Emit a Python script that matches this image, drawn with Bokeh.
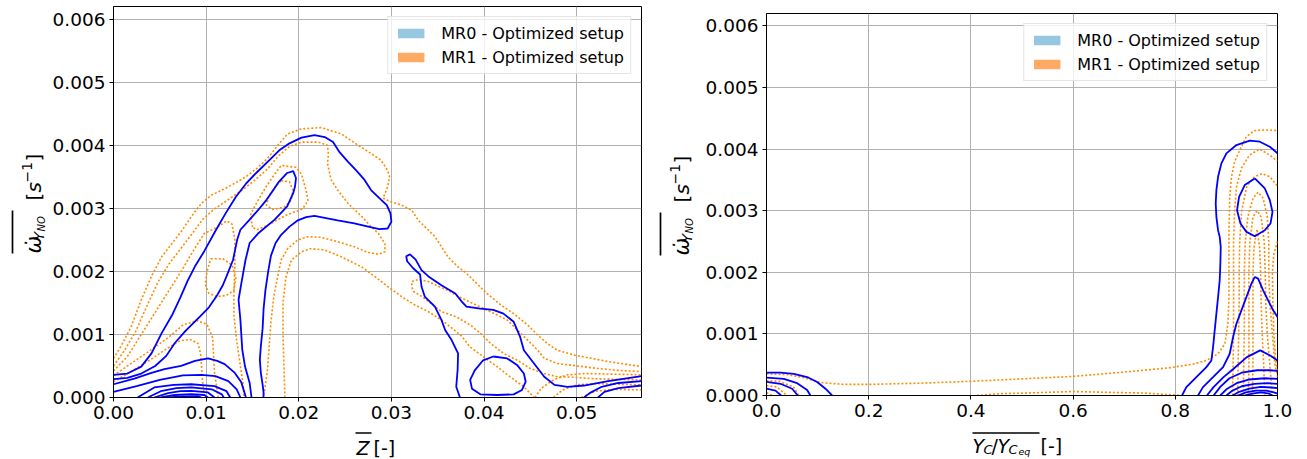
import math
from bokeh.plotting import figure
from bokeh.layouts import row, column
from bokeh.models import Range1d, FixedTicker, PrintfTickFormatter, Legend, LegendItem
from bokeh.core.properties import value
from bokeh.embed import file_html
from bokeh.resources import INLINE

# ---------------- data: left panel (x = mean mixture fraction Z) ----------------
z_ticks = [0.0, 0.01, 0.02, 0.03, 0.04, 0.05]
w_ticks = [0.0, 0.001, 0.002, 0.003, 0.004, 0.005, 0.006]
c_ticks = [0.0, 0.2, 0.4, 0.6, 0.8, 1.0]
legend_labels = ["MR0 - Optimized setup", "MR1 - Optimized setup"]

# MR0 (solid blue) contour paths, (Z, omega)
mr0_z_outer = [(0.0,0.00036),(0.0015,0.00038),(0.003,0.00049),(0.0041,0.0007),(0.0052,0.00102),(0.0063,0.0013),
    (0.0072,0.00158),(0.0080,0.00185),(0.0088,0.00208),(0.0098,0.00232),(0.0110,0.00264),(0.0121,0.00292),
    (0.0132,0.00318),(0.0143,0.00339),(0.0154,0.00356),(0.0168,0.00376),(0.0179,0.00392),(0.0190,0.00403),
    (0.0203,0.00412),(0.0217,0.00416),(0.0228,0.00413),(0.0237,0.00405),(0.0244,0.00389),(0.0253,0.00374),
    (0.0262,0.0036),(0.0271,0.00345),(0.0278,0.00329),(0.0287,0.00316),(0.0295,0.00305),(0.0299,0.00292),
    (0.0300,0.00279),(0.0296,0.00268),(0.0287,0.00267),(0.0275,0.00271),(0.0260,0.00276),(0.0242,0.00281),
    (0.0228,0.00285),(0.0217,0.00288),(0.0208,0.00286),(0.0199,0.00281),(0.0190,0.00271),(0.0181,0.00258),
    (0.0175,0.00245),(0.0170,0.00225),(0.0167,0.0020),(0.0164,0.0017),(0.0162,0.0014),(0.0161,0.0011),
    (0.0159,0.0008),(0.0158,0.0006),(0.0159,0.0004),(0.0161,0.0002),(0.0162,0.00008),(0.0162,0.0)]
mr0_z_inner = [(0.0,0.00029),(0.0015,0.00031),(0.003,0.00038),(0.0045,0.0005),(0.0057,0.00066),(0.0066,0.00086),
    (0.0078,0.00106),(0.0093,0.00128),(0.0103,0.00143),(0.0111,0.0016),(0.0118,0.00178),(0.0122,0.00192),
    (0.0129,0.00218),(0.01335,0.0025),(0.0137,0.00266),(0.0147,0.00282),(0.0156,0.00297),(0.0165,0.00313),
    (0.0172,0.00328),(0.01785,0.00342),(0.01875,0.00356),(0.0194,0.00359),(0.0197,0.00348),(0.0196,0.00335),
    (0.0194,0.00324),(0.01875,0.00303),(0.0174,0.00282),(0.0156,0.0026),(0.0147,0.00245),(0.01425,0.00218),
    (0.0138,0.00181),(0.0135,0.00155),(0.0137,0.00123),(0.0139,0.00076),(0.0142,0.00049),(0.0147,0.00023),(0.0149,0.0)]
mr0_z_hump = [(0.0,0.00021),(0.00225,0.0003),(0.0041,0.00039),(0.0055,0.00045),(0.0073,0.0005),(0.0088,0.00058),
    (0.0102,0.00062),(0.0112,0.00058),(0.012,0.00053),(0.0131,0.00039),(0.0138,0.00024),(0.0143,0.0)]
mr0_z_low = [(0.0,0.00009),(0.0025,0.00018),(0.005,0.00028),(0.0075,0.00035),(0.0095,0.00036),(0.011,0.00034),
    (0.0124,0.00026),(0.0133,0.00013),(0.0137,0.0)]
mr0_z_core1 = [(0.0026,0.0),(0.0044,0.00016),(0.0065,0.0002),(0.0084,0.00021),(0.0109,0.00018),(0.0122,0.0001),(0.0126,0.0)]
mr0_z_core2 = [(0.0037,0.0),(0.0051,0.0001),(0.0068,0.00015),(0.0084,0.00016),(0.0106,0.00013),(0.0117,0.00005),(0.0119,0.0)]
mr0_z_core3 = [(0.0044,0.0),(0.0059,0.00007),(0.0072,0.0001),(0.0084,0.000105),(0.0102,0.00008),(0.0109,0.0)]
mr0_z_core4 = [(0.0051,0.0),(0.0066,0.00004),(0.0084,0.000055),(0.0098,0.00004),(0.0102,0.0)]
mr0_z_core5 = [(0.0059,0.0),(0.0073,0.000018),(0.0091,0.00002),(0.0095,0.0)]
mr0_z_right = [(0.0374,0.0),(0.0370,0.00017),(0.03715,0.00044),(0.0372,0.0007),(0.0365,0.00091),(0.0358,0.00107),
    (0.0354,0.00123),(0.0347,0.00144),(0.0336,0.0016),(0.03325,0.00176),(0.0331,0.00195),(0.03235,0.00205),
    (0.0317,0.00216),(0.0316,0.00224),(0.0320,0.00227),(0.0326,0.00219),(0.03325,0.00202),(0.0340,0.00192),
    (0.0354,0.00178),(0.0369,0.00165),(0.0376,0.00152),(0.0381,0.00144),(0.0396,0.00141),(0.0410,0.00139),
    (0.0421,0.00133),(0.0432,0.0012),(0.0439,0.00096),(0.0443,0.00075),(0.0454,0.00054),(0.0465,0.00033),
    (0.0476,0.0002),(0.0490,0.00017),(0.0508,0.00019),(0.0534,0.00026),(0.057,0.00034)]
mr0_z_island = [(0.0410,0.00065),(0.0425,0.00062),(0.0436,0.00051),(0.0443,0.00038),(0.0445,0.00025),(0.0441,0.00012),
    (0.0432,0.00005),(0.0414,0.00004),(0.0396,0.00005),(0.0387,0.00014),(0.0385,0.00028),(0.039,0.00043),
    (0.0399,0.00059),(0.0410,0.00065)]
mr0_z_tail1 = [(0.0508,0.0),(0.0514,0.00007),(0.0527,0.00017),(0.0545,0.00023),(0.057,0.00026)]
mr0_z_tail2 = [(0.0523,0.0),(0.053,0.00009),(0.0545,0.00015),(0.057,0.00019)]

# MR1 (dotted orange) contour paths, (Z, omega)
mr1_z_outer = [(0.0,0.00062),(0.0008,0.00081),(0.0019,0.00112),(0.003,0.00155),(0.0041,0.00192),(0.0052,0.00223),
    (0.0063,0.00244),(0.0074,0.00265),(0.0084,0.00287),(0.0095,0.00308),(0.0106,0.00321),(0.0124,0.00334),
    (0.0143,0.0035),(0.0157,0.00366),(0.0168,0.00382),(0.0179,0.00403),(0.0188,0.00418),(0.0203,0.00426),
    (0.0224,0.00428),(0.0246,0.00418),(0.0264,0.004),(0.0278,0.00387),(0.0289,0.00376),(0.0296,0.0036),
    (0.0298,0.0035),(0.0296,0.00334),(0.0291,0.00316),(0.03,0.0031),(0.0311,0.00305),(0.0322,0.00297),
    (0.0329,0.00281),(0.0336,0.00271),(0.0347,0.00255),(0.0354,0.00239),(0.0361,0.00223),(0.0372,0.00207),
    (0.0381,0.00197),(0.0392,0.00181),(0.0403,0.00165),(0.0418,0.00147),(0.0432,0.00133),(0.0447,0.00115),
    (0.0458,0.00099),(0.0468,0.00086),(0.0479,0.00075),(0.0498,0.00067),(0.0516,0.00062),(0.0534,0.00057),
    (0.0552,0.00053),(0.057,0.00049)]
mr1_z_second = [(0.0,0.0005),(0.0012,0.00075),(0.0024,0.00105),(0.0036,0.00145),(0.0048,0.00183),(0.006,0.00212),
    (0.0072,0.00235),(0.0084,0.00258),(0.0096,0.00282),(0.0108,0.00298),(0.0122,0.00312),(0.0138,0.00328),
    (0.0153,0.00345),(0.0166,0.00362),(0.0178,0.00383),(0.019,0.00398),(0.0203,0.00405),(0.0221,0.00405),
    (0.0231,0.004),(0.0232,0.00385),(0.0231,0.00371),(0.0235,0.00345),(0.0242,0.00329),(0.0253,0.00308),
    (0.0268,0.00287),(0.0278,0.00271),(0.0286,0.0026),(0.0293,0.00244),(0.0293,0.00231),(0.0286,0.00227),
    (0.0275,0.0023),(0.026,0.00239),(0.0242,0.00247),(0.0224,0.00254),(0.021,0.00255),(0.0199,0.0025),
    (0.0188,0.00236),(0.0181,0.00218),(0.0177,0.0019),(0.0173,0.0016),(0.017,0.0012),(0.0168,0.0008),
    (0.0166,0.0004),(0.0163,0.0001),(0.0161,0.0)]
mr1_z_third = [(0.0,0.00042),(0.0015,0.00065),(0.003,0.001),(0.0045,0.00135),(0.006,0.0017),(0.0073,0.002),
    (0.0085,0.0023),(0.0098,0.0026),(0.0112,0.0027),(0.0122,0.0028),(0.0128,0.00275),(0.0131,0.0025),
    (0.0131,0.0021),(0.013,0.0017),(0.013,0.0013),(0.0133,0.0009),(0.0137,0.0005),(0.014,0.0002),(0.0141,0.0)]
mr1_z_fourth = [(0.0,0.00035),(0.002,0.00055),(0.004,0.00075),(0.006,0.00096),(0.0075,0.00115),(0.009,0.00122),
    (0.0101,0.00116),(0.0107,0.00095),(0.0108,0.0007),(0.0109,0.0004),(0.0111,0.0002),(0.0113,0.0)]
mr1_z_fifth = [(0.0,0.00025),(0.002,0.00042),(0.004,0.0006),(0.0058,0.00078),(0.0072,0.0009),(0.0083,0.00092),
    (0.0091,0.00086),(0.0094,0.0007),(0.0095,0.0005),(0.0096,0.0003),(0.0098,0.0)]
mr1_z_loop1 = [(0.0150,0.0027),(0.0148,0.0029),(0.0155,0.0031),(0.0165,0.00335),(0.0172,0.0035),(0.0181,0.00368),
    (0.0197,0.00365),(0.0203,0.00354),(0.0208,0.00328),(0.021,0.00312),(0.0204,0.00299),(0.0195,0.00294),
    (0.0185,0.00288),(0.0175,0.0028),(0.0165,0.00272),(0.0155,0.00266),(0.0150,0.0027)]
mr1_z_loop2 = [(0.0181,0.00344),(0.019,0.00342),(0.01935,0.00329),(0.0192,0.00313),(0.01845,0.00302),(0.0172,0.00298),
    (0.0165,0.00305),(0.0168,0.0032),(0.0175,0.00335),(0.0181,0.00344)]
mr1_z_loop3 = [(0.0105,0.0022),(0.0118,0.0022),(0.0128,0.0021),(0.0132,0.0019),(0.013,0.0017),(0.0122,0.00162),
    (0.0112,0.0016),(0.0103,0.00165),(0.0099,0.0018),(0.0101,0.002),(0.0105,0.0022)]
mr1_z_slope1 = [(0.0185,0.0),(0.0184,0.0005),(0.0183,0.001),(0.0183,0.0015),(0.0186,0.0019),(0.0192,0.00218),
    (0.0203,0.00231),(0.0213,0.00236),(0.0228,0.00234),(0.0246,0.00223),(0.0268,0.00207),(0.0282,0.00192),
    (0.0296,0.00176),(0.0311,0.0016),(0.0325,0.00147),(0.034,0.00136),(0.0354,0.00123),(0.0368,0.00107),
    (0.0376,0.00097),(0.0385,0.0008),(0.0399,0.00065),(0.0414,0.00049),(0.0428,0.00033),(0.0443,0.00017),(0.0454,0.0)]
mr1_z_slope2 = [(0.057,0.00028),(0.0538,0.00029),(0.0516,0.0003),(0.0498,0.00032),(0.0479,0.00033),(0.0465,0.00038),
    (0.045,0.00046),(0.0436,0.00059),(0.0421,0.0007),(0.0407,0.00086),(0.0396,0.00102),(0.0385,0.00115),
    (0.0370,0.00128),(0.0354,0.00136),(0.0343,0.00149),(0.0333,0.0016),(0.0324,0.00168),(0.0322,0.00175),
    (0.0322,0.00184),(0.0329,0.00187),(0.034,0.00184),(0.0351,0.00176),(0.0361,0.0017),(0.0370,0.00162),
    (0.0388,0.00149),(0.0407,0.00136),(0.0425,0.00123),(0.0436,0.00107),(0.0447,0.00091),(0.0458,0.00075),
    (0.0465,0.00062),(0.0479,0.00054),(0.0501,0.0005),(0.0523,0.00046),(0.0545,0.00043),(0.057,0.00041)]
mr1_z_tail1 = [(0.0455,0.0),(0.0462,0.00015),(0.0475,0.00028),(0.049,0.00036),(0.051,0.00038),(0.054,0.00037),(0.057,0.00036)]
mr1_z_tail2 = [(0.0475,0.0),(0.0485,0.00012),(0.05,0.0002),(0.052,0.00022),(0.0545,0.00021),(0.057,0.0002)]
mr1_z_tail3 = [(0.0505,0.0),(0.052,0.0001),(0.054,0.00013),(0.057,0.00012)]

# ---------------- data: right panel (x = progress variable Yc/Yc,eq) ----------------
mr0_c_outer = [(0.8131,0.0),(0.8216,0.000136),(0.8412,0.000298),(0.8608,0.000461),(0.8706,0.000569),(0.8739,0.000786),
    (0.8771,0.001057),(0.8804,0.001328),(0.8837,0.001599),(0.8869,0.00187),(0.8882,0.002141),(0.8889,0.002412),
    (0.8869,0.002575),(0.8837,0.002683),(0.8804,0.0029),(0.8791,0.003117),(0.8804,0.003333),(0.8837,0.00355),
    (0.8902,0.003767),(0.9,0.00393),(0.9196,0.004065),(0.9458,0.004136),(0.9654,0.004119),(0.985,0.004038),(1.0,0.00393)]
mr0_c_island = [(0.9556,0.003523),(0.9752,0.00336),(0.985,0.003171),(0.9902,0.002981),(0.9863,0.002791),(0.9752,0.002683),
    (0.9556,0.002585),(0.9392,0.002656),(0.9275,0.002791),(0.9209,0.003008),(0.9248,0.003225),(0.9359,0.003415),(0.9556,0.003523)]
mr0_c_peak = [(0.8444,0.0),(0.8542,0.000136),(0.8739,0.000298),(0.8935,0.000461),(0.9065,0.000678),(0.9131,0.000949),
    (0.9196,0.001165),(0.9294,0.001382),(0.9392,0.001599),(0.949,0.001816),(0.9556,0.001924),(0.9621,0.001897),
    (0.9719,0.001707),(0.9817,0.001545),(0.9915,0.001382),(1.0,0.001274)]
mr0_c_bump = [(0.8618,0.0),(0.8748,0.000136),(0.8944,0.000298),(0.914,0.000434),(0.94,0.000623),(0.9661,0.000732),
    (0.9857,0.00065),(1.0,0.000569)]
mr0_c_core1 = [(0.875,0.0),(0.888,0.00014),(0.906,0.00028),(0.93,0.00037),(0.96,0.00041),(0.985,0.00041),(1.0,0.0004)]
mr0_c_core2 = [(0.888,0.0),(0.9,0.0001),(0.92,0.0002),(0.945,0.00026),(0.975,0.00028),(1.0,0.00027)]
mr0_c_core3 = [(0.9,0.0),(0.912,0.00008),(0.93,0.00015),(0.955,0.00019),(0.98,0.0002),(1.0,0.00019)]
mr0_c_core4 = [(0.912,0.0),(0.925,0.00006),(0.945,0.00011),(0.967,0.00014),(0.988,0.00013),(1.0,0.00012)]
mr0_c_core5 = [(0.923,0.0),(0.938,0.00005),(0.958,0.00008),(0.978,0.00008),(0.993,0.00005),(1.0,0.00003)]
mr0_c_core6 = [(0.935,0.0),(0.95,0.00003),(0.968,0.00005),(0.984,0.00003),(0.99,0.0)]
mr0_c_fresh1 = [(0.0,0.00037),(0.0274,0.00037),(0.0535,0.00035),(0.0795,0.0003),(0.0991,0.00022),(0.1154,0.00011),(0.1284,0.0)]
mr0_c_fresh2 = [(0.0,0.00029),(0.0339,0.00027),(0.06,0.0002),(0.0795,0.00009),(0.086,0.0)]
mr0_c_fresh3 = [(0.0,0.00022),(0.0274,0.00019),(0.0502,0.00011),(0.0613,0.0)]
mr0_c_fresh4 = [(0.0,0.00011),(0.0176,0.00008),(0.0287,0.0)]

mr1_c_outer = [(0.0,0.00035),(0.04,0.00034),(0.073,0.00029),(0.106,0.00021),(0.151,0.00018),(0.2,0.00018),(0.3,0.0002),
    (0.4,0.00023),(0.5,0.00027),(0.6,0.00031),(0.7,0.00038),(0.75,0.00042),(0.789,0.00045),(0.835,0.00051),
    (0.861,0.00057),(0.884,0.00068),(0.897,0.00084),(0.903,0.00117),(0.905,0.0016),(0.905,0.00214),(0.905,0.00268),
    (0.9065,0.00322),(0.91,0.00355),(0.916,0.00379),(0.926,0.00398),(0.939,0.0042),(0.955,0.0043),(0.975,0.00431),(1.0,0.0043)]
mr1_c_low = [(0.412,0.0),(0.458,0.00003),(0.51,0.00004),(0.6,0.000065),(0.673,0.00005),(0.738,0.00004),(0.797,0.00001),(0.81,0.0)]
mr1_c_second = [(0.912,0.0),(0.913,0.0005),(0.914,0.001),(0.914,0.0015),(0.914,0.002),(0.914,0.0025),(0.916,0.003),
    (0.92,0.0034),(0.93,0.0037),(0.945,0.0039),(0.965,0.004),(0.985,0.0039),(1.0,0.0038)]
mr1_c_third = [(0.922,0.0),(0.923,0.0005),(0.924,0.001),(0.925,0.0015),(0.925,0.002),(0.926,0.0025),(0.93,0.003),
    (0.94,0.0034),(0.955,0.00355),(0.97,0.0036),(0.985,0.00355),(1.0,0.0034)]
mr1_c_fourth = [(0.933,0.0),(0.934,0.0005),(0.935,0.001),(0.935,0.0015),(0.935,0.002),(0.937,0.0025),(0.942,0.0029),
    (0.952,0.0032),(0.962,0.0033),(0.972,0.0032),(0.98,0.0029),(0.983,0.0025),(0.983,0.002),(0.985,0.0015),
    (0.99,0.001),(0.995,0.0005),(1.0,0.0003)]
mr1_c_fifth = [(0.943,0.0),(0.944,0.0005),(0.944,0.001),(0.944,0.0015),(0.944,0.002),(0.946,0.0025),(0.952,0.0029),
    (0.96,0.003),(0.968,0.0029),(0.974,0.0025),(0.976,0.002),(0.977,0.0015),(0.98,0.001),(0.985,0.0005),(0.99,0.0)]
mr1_c_sixth = [(0.951,0.0),(0.952,0.0005),(0.952,0.001),(0.952,0.0015),(0.952,0.002),(0.954,0.0024),(0.96,0.0027),
    (0.965,0.0024),(0.967,0.002),(0.968,0.0015),(0.97,0.001),(0.973,0.0005),(0.975,0.0)]
mr1_c_edge = [(1.0,0.0025),(0.993,0.0023),(0.99,0.002),(0.991,0.0015),(0.993,0.001),(0.996,0.0006),(1.0,0.0004)]
mr1_c_fresh1 = [(0.0,0.00024),(0.025,0.00023),(0.053,0.00014),(0.063,0.0)]
mr1_c_fresh2 = [(0.0,0.00016),(0.02,0.00014),(0.04,0.0)]
mr1_c_fresh3 = [(0.0,0.00005),(0.011,0.0)]

left_mr0 = [mr0_z_outer, mr0_z_inner, mr0_z_hump, mr0_z_low, mr0_z_core1, mr0_z_core2, mr0_z_core3,
            mr0_z_core4, mr0_z_core5, mr0_z_right, mr0_z_island, mr0_z_tail1, mr0_z_tail2]
left_mr1 = [mr1_z_outer, mr1_z_second, mr1_z_third, mr1_z_fourth, mr1_z_fifth, mr1_z_loop1, mr1_z_loop2,
            mr1_z_loop3, mr1_z_slope1, mr1_z_slope2, mr1_z_tail1, mr1_z_tail2, mr1_z_tail3]
right_mr0 = [mr0_c_outer, mr0_c_island, mr0_c_peak, mr0_c_bump, mr0_c_core1, mr0_c_core2, mr0_c_core3,
             mr0_c_core4, mr0_c_core5, mr0_c_core6, mr0_c_fresh1, mr0_c_fresh2, mr0_c_fresh3, mr0_c_fresh4]
right_mr1 = [mr1_c_outer, mr1_c_low, mr1_c_second, mr1_c_third, mr1_c_fourth, mr1_c_fifth, mr1_c_sixth,
             mr1_c_edge, mr1_c_fresh1, mr1_c_fresh2, mr1_c_fresh3]

# ---------------- styling ----------------
BLUE = "#0000ff"
ORANGE = "#ff8c00"
PATCH_BLUE = "#96c6e0"
PATCH_ORANGE = "#fdaa64"
FONT = "DejaVu Sans"
NAN = float("nan")
H = 459


def paths(contours):
    return [[pt[0] for pt in c] for c in contours], [[pt[1] for pt in c] for c in contours]


def make_fig(xr, xticks, xfmt, w, h, bl, br, bt, bb):
    p = figure(output_backend="svg", toolbar_location=None, title=None, width=w, height=h,
               min_border_left=bl, min_border_right=br, min_border_top=bt, min_border_bottom=bb,
               x_range=Range1d(*xr), y_range=Range1d(0.0, 0.0062))
    p.background_fill_color = "white"
    p.border_fill_color = "white"
    p.outline_line_color = "black"
    p.outline_line_width = 1
    p.outline_line_alpha = 1
    p.xaxis.ticker = FixedTicker(ticks=xticks)
    p.yaxis.ticker = FixedTicker(ticks=w_ticks)
    p.xaxis.formatter = PrintfTickFormatter(format=xfmt)
    p.yaxis.formatter = PrintfTickFormatter(format="%.3f")
    for ax in (p.xaxis[0], p.yaxis[0]):
        ax.axis_label = None
        ax.major_label_text_font = FONT
        ax.major_label_text_font_size = "18.5px"
        ax.major_label_text_color = "black"
        ax.axis_line_color = "black"
        ax.axis_line_width = 1
        ax.major_tick_line_color = "black"
        ax.major_tick_in = 0
        ax.major_tick_out = 4
        ax.minor_tick_line_color = None
        ax.minor_tick_out = 0
    p.xaxis.major_label_standoff = 4
    p.yaxis.major_label_standoff = 4
    p.grid.grid_line_color = "#b0b0b0"
    p.grid.grid_line_width = 1
    p.grid.grid_line_alpha = 1
    return p


def make_text_fig(w, h, xr):
    t = figure(output_backend="svg", toolbar_location=None, title=None, width=w, height=h,
               min_border=0, min_border_left=0, min_border_right=0, min_border_top=0, min_border_bottom=0,
               x_axis_location=None, y_axis_location=None,
               x_range=Range1d(*xr), y_range=Range1d(0, h))
    t.outline_line_color = None
    t.background_fill_color = "white"
    t.border_fill_color = "white"
    t.grid.visible = False
    return t


def add_contours(p, mr0, mr1):
    xs, ys = paths(mr1)
    p.multi_line(xs=xs, ys=ys, line_color=ORANGE, line_width=1.6, line_dash="2 2")
    xs, ys = paths(mr0)
    p.multi_line(xs=xs, ys=ys, line_color=BLUE, line_width=1.8)


def add_legend(p):
    r0 = p.quad(left=[NAN], right=[NAN], top=[NAN], bottom=[NAN], fill_color=PATCH_BLUE, line_color=None)
    r1 = p.quad(left=[NAN], right=[NAN], top=[NAN], bottom=[NAN], fill_color=PATCH_ORANGE, line_color=None)
    leg = Legend(items=[LegendItem(label=legend_labels[0], renderers=[r0]),
                        LegendItem(label=legend_labels[1], renderers=[r1])],
                 location="top_right", margin=10, padding=6, spacing=4,
                 glyph_width=33, glyph_height=12, label_height=20, label_standoff=14,
                 label_text_font=FONT, label_text_font_size="16px", label_text_color="black",
                 border_line_color="#cccccc", border_line_width=1,
                 background_fill_color="white", background_fill_alpha=0.8)
    p.add_layout(leg)


def txt(t, oy, X, Y, text, size, style="normal", angle=0.0):
    # X: page-pixel x (text figures use page x as their data x); Y: page pixels from the top
    t.text(x=[X], y=[t.height - (Y - oy)], text=[text], text_font=value(FONT),
           text_font_size=value(f"{size}px"), text_font_style=style, text_color="black",
           text_align="left", text_baseline="alphabetic", angle=angle)


def bar(t, oy, X0, Y0, X1, Y1):
    t.segment(x0=[X0], y0=[t.height - (Y0 - oy)], x1=[X1], y1=[t.height - (Y1 - oy)],
              line_color="black", line_width=1.7)


def ylabel(t, dx, dy):
    a = math.pi / 2
    txt(t, 0, 33 + dx, 253 + dy, "\u03c9\u0307", 21, "italic", a)
    txt(t, 0, 38 + dx, 240 + dy, "Y", 14, "italic", a)
    txt(t, 0, 41 + dx, 231 + dy, "NO", 10, "italic", a)
    txt(t, 0, 33 + dx, 200 + dy, "[", 20, "normal", a)
    txt(t, 0, 33 + dx, 192 + dy, "s", 20, "italic", a)
    txt(t, 0, 26 + dx, 182 + dy, "\u22121", 14, "normal", a)
    txt(t, 0, 33 + dx, 161 + dy, "]", 20, "normal", a)
    bar(t, 0, 12 + dx, 210 + dy, 12 + dx, 253 + dy)


# ---------------- left panel ----------------
YL1_W = 48
P1_W = 650 - YL1_W
P1_BOTTOM = 34
P1_H = 6 + 391 + P1_BOTTOM
p1 = make_fig((0.0, 0.057), z_ticks, "%.2f", P1_W, P1_H, 113 - YL1_W, 9, 6, P1_BOTTOM)
add_contours(p1, left_mr0, left_mr1)
add_legend(p1)

yl1 = make_text_fig(YL1_W, H, (0, YL1_W))
ylabel(yl1, 0, 0)

# its frame lines up with the panel's frame (page x 113..641), so page x is used directly
xl1 = make_text_fig(P1_W, H - P1_H, (113, 641))
txt(xl1, P1_H, 356, 447, "Z", 19, "italic")
txt(xl1, P1_H, 373, 447, " [-]", 19)
bar(xl1, P1_H, 355, 432.5, 371, 432.5)

# ---------------- right panel ----------------
YL2_X = 650
YL2_W = 48
P2_X = YL2_X + YL2_W
P2_W = 1307 - P2_X
P2_BOTTOM = 36
P2_H = 13 + 382 + P2_BOTTOM
p2 = make_fig((0.0, 1.0), c_ticks, "%.1f", P2_W, P2_H, 766 - P2_X, 30, 13, P2_BOTTOM)
add_contours(p2, right_mr0, right_mr1)
add_legend(p2)

yl2 = make_text_fig(YL2_W, H, (YL2_X, YL2_X + YL2_W))
ylabel(yl2, 648, 2)

xl2 = make_text_fig(P2_W, H - P2_H, (766, 1277))
txt(xl2, P2_H, 972, 445, "Y", 19, "italic")
txt(xl2, P2_H, 983, 448.5, "C", 13, "italic")
txt(xl2, P2_H, 991, 445, "/", 19, "normal")
txt(xl2, P2_H, 997, 445, "Y", 19, "italic")
txt(xl2, P2_H, 1008, 448.5, "C", 13, "italic")
txt(xl2, P2_H, 1018, 450.5, "eq", 9.5, "italic")
txt(xl2, P2_H, 1040, 445, " [-]", 19)
bar(xl2, P2_H, 972, 432.5, 1039, 432.5)

layout = row(yl1, column(p1, xl1), yl2, column(p2, xl2))
open("out.html", "w").write(file_html(layout, INLINE))
